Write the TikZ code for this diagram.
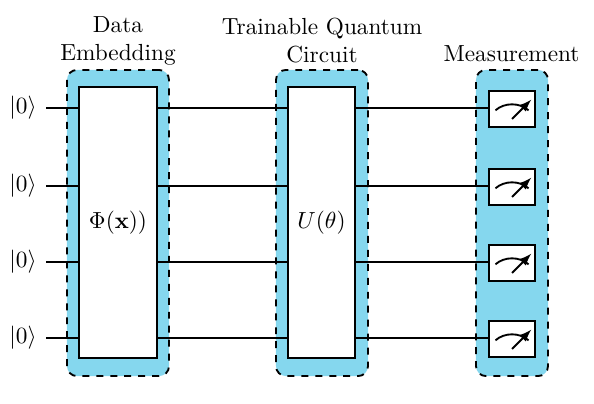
\documentclass[tikz,border=0pt]{standalone}
\usepackage{amsmath, amssymb}
\usepackage{xcolor}
\usepackage{tikz}
\usetikzlibrary{positioning}
\definecolor{panelColor}{RGB}{133, 215, 238}
\newcommand{\ket}[1]{\ensuremath{|#1\rangle}}
\tikzset{
	panel/.style={draw=black, thick, dashed, fill=panelColor, rounded corners=0.15cm},
	gatebox/.style={draw=black, thick, fill=white},
	meterbox/.style={draw=black, thick, fill=white, minimum width=0.695cm, minimum height=0.544cm, inner sep=0pt},
	wire/.style={draw=black, thick},
	qubit/.style={inner sep=0pt, minimum width=0.695cm, minimum height=0.3cm},
	title/.style={align=center, inner sep=0pt}
}
\begin{document}
\begin{tikzpicture}[x=0.01511cm, y=-0.01511cm]
	\useasboundingbox (0,0) rectangle (594,404);
	
	% Shaded panels behind the gates
	\node[panel, minimum width=1.541cm, minimum height=4.624cm] (dataPanel) at (118, 223) {};
	\node[panel, minimum width=1.39cm, minimum height=4.624cm] (circuitPanel) at (322, 223) {};
	\node[panel, minimum width=1.088cm, minimum height=4.624cm] (measPanel) at (512, 223) {};
	
	% Gates
	\node[gatebox, minimum width=1.179cm, minimum height=4.095cm] (dataGate) at (118, 222.5) {$\Phi(\mathbf{x}))$};
	\node[gatebox, minimum width=1.012cm, minimum height=4.095cm] (circuitGate) at (321.5, 222.5) {$U(\theta)$};
	
	% Qubits, wires and meters
	\foreach \i/\y in {1/108, 2/186, 3/262, 4/338} {
		\node[qubit] (q\i) at (23, \y) {\ket{0}};
		\node[meterbox] (m\i) at (512, \y+1) {};
		\draw[wire] (q\i.east) -- (q\i -| dataGate.west);
		\draw[wire] (dataGate.east |- q\i) -- (q\i -| circuitGate.west);
		\draw[wire] (circuitGate.east |- q\i) -- (q\i -| m\i.west);
		% Meter dial and needle
		\draw[thick] ([xshift=-0.25cm, yshift=-0.02cm]m\i.center) .. controls +(9,-8) and +(-9,-8) .. ([xshift=0.25cm, yshift=-0.02cm]m\i.center);
		\draw[thick, -latex] ([yshift=-0.15cm]m\i.center) -- ([xshift=0.29cm, yshift=0.14cm]m\i.center);
	}
	
	% Titles
	\node[title] (dataTitle) at (118, 41) {Data\\Embedding};
	\node[title] (circuitTitle) at (322, 41) {Trainable Quantum\\Circuit};
	\node[title] (measTitle) at (511.5, 54) {Measurement};
\end{tikzpicture}
\end{document}
